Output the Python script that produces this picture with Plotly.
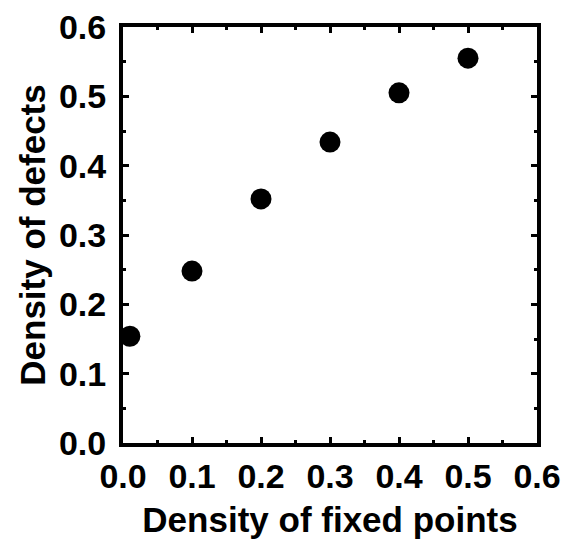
import plotly.graph_objects as go

fixed_density = [0.01, 0.1, 0.2, 0.3, 0.4, 0.5]
defect_density = [0.154, 0.248, 0.352, 0.434, 0.505, 0.555]
tick_vals = [0.0, 0.1, 0.2, 0.3, 0.4, 0.5, 0.6]
tick_text = ["0.0", "0.1", "0.2", "0.3", "0.4", "0.5", "0.6"]

FONT = "Liberation Sans"

fig = go.Figure()
fig.add_trace(go.Scatter(
    x=fixed_density, y=defect_density, mode="markers",
    marker=dict(size=21, color="black"),
    showlegend=False,
))

axis_common = dict(
    showline=True, linecolor="black", linewidth=4, mirror="allticks",
    ticks="inside", ticklen=6, tickwidth=3, tickcolor="black",
    showgrid=False, zeroline=False, automargin=False,
    tickvals=tick_vals, ticktext=tick_text,
    tickfont=dict(family=FONT, size=34, color="black", weight="bold"),
    minor=dict(ticks="inside", ticklen=3, tickwidth=3, tickcolor="black", dtick=0.05, showgrid=False),
)

fig.update_xaxes(range=[0, 0.6], **axis_common, ticklabelstandoff=0,
                 title=dict(text="Density of fixed points",
                            font=dict(family=FONT, size=35, color="black", weight="bold"),
                            standoff=15))
fig.update_yaxes(range=[0, 0.6], **axis_common, ticklabelstandoff=6,
                 title=dict(text="Density of defects",
                            font=dict(family=FONT, size=35, color="black", weight="bold"),
                            standoff=4))

fig.update_layout(
    width=575, height=541,
    margin=dict(l=123, r=38, t=27, b=98),
    plot_bgcolor="white", paper_bgcolor="white",
)

fig.write_html("out.html")
